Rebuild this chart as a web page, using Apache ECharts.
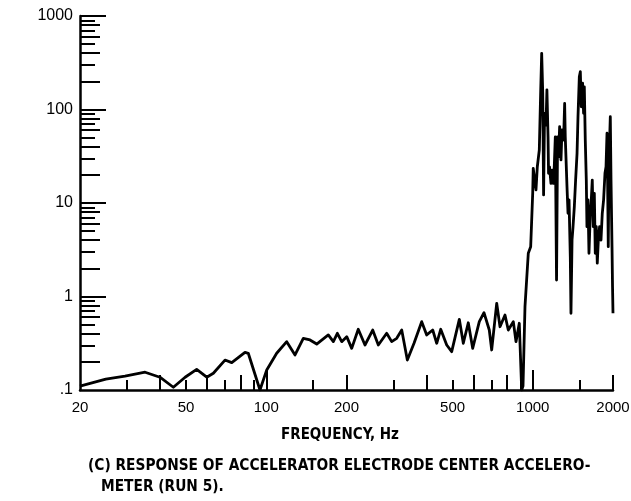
<!DOCTYPE html>
<html><head><meta charset="utf-8">
<script src="https://cdn.jsdelivr.net/npm/echarts@6/dist/echarts.min.js"></script>
<style>html,body{margin:0;padding:0;background:#fff}#c{width:631px;height:501px}</style>
</head><body><div id="c"></div><script>
const freqHz = [20, 25, 29.5, 35.1, 39.9, 44.8, 49.6, 54.8, 59.8, 63.3, 70, 74.2, 83.2, 85.6, 94.7, 100.4, 109.4, 119.3, 128.2, 137.7, 145.9, 154.6, 170.9, 178.5, 184.8, 191.9, 200.4, 209.2, 221.4, 234.6, 250.8, 263.3, 283, 295.5, 308.6, 322.3, 338.3, 358.4, 383, 399.9, 421.3, 436.1, 451.4, 475.4, 496.3, 530.1, 548.7, 572.8, 595, 630, 656, 686.8, 701.2, 732.2, 753.4, 786.6, 809.3, 845.2, 865, 890, 908.6, 919, 934.9, 962, 982, 999.4, 1004, 1019, 1028, 1040, 1058, 1071, 1080, 1090, 1098, 1107, 1121, 1130, 1141, 1146, 1156, 1170, 1181, 1194, 1204, 1215, 1228, 1239, 1250, 1261, 1276, 1287, 1305, 1317, 1324, 1344, 1356, 1368, 1383, 1391, 1404, 1416, 1432, 1448, 1466, 1478, 1495, 1508, 1521, 1538, 1551, 1561, 1574, 1588, 1597, 1611, 1625, 1644, 1658, 1672, 1687, 1702, 1716, 1731, 1746, 1762, 1781, 1803, 1823, 1844, 1866, 1883, 1899, 1909, 1920, 1932, 1954, 1966, 1983, 1992, 2000];
const response = [0.11, 0.131, 0.141, 0.155, 0.137, 0.107, 0.137, 0.166, 0.137, 0.151, 0.209, 0.196, 0.253, 0.247, 0.1, 0.164, 0.247, 0.329, 0.237, 0.357, 0.343, 0.310, 0.388, 0.329, 0.404, 0.329, 0.372, 0.279, 0.446, 0.303, 0.438, 0.303, 0.404, 0.329, 0.357, 0.438, 0.209, 0.316, 0.538, 0.388, 0.438, 0.316, 0.446, 0.303, 0.257, 0.570, 0.316, 0.524, 0.279, 0.538, 0.671, 0.438, 0.268, 0.846, 0.475, 0.634, 0.438, 0.538, 0.329, 0.517, 0.1, 0.11, 0.778, 2.90, 3.41, 12.7, 23.5, 24.4, 13.8, 24.4, 36.9, 162, 399, 149, 12.2, 91, 68, 162, 51, 20.8, 24.4, 16.2, 22.5, 16.2, 24.4, 51, 1.50, 51, 31.3, 65.5, 28.9, 60.4, 47.2, 116, 51, 14.9, 7.76, 10.8, 2.67, 0.661, 4.02, 5.58, 9.13, 17.6, 34.0, 83.8, 224, 254, 107, 191, 91, 175, 47.2, 17.6, 5.58, 10.8, 2.90, 7.76, 10.8, 17.6, 5.58, 12.7, 2.90, 5.58, 2.27, 4.02, 5.58, 4.02, 7.76, 10.8, 20.8, 24.4, 55.7, 17.6, 3.41, 28.9, 83.8, 17.6, 3.41, 1.27, 0.661];

const xLabelValues = [20, 50, 100, 200, 500, 1000, 2000];
const xTicksLong = [100, 1000];
const xTicksMedium = [40, 60, 80, 200, 400, 600, 800, 900, 2000];
const xTicksShort = [30, 50, 70, 90, 150, 300, 500, 700, 1500];
const yLabelValues = [0.1, 1, 10, 100, 1000];
const yTicksMajor = [1, 10, 100, 1000];
const yTicksEven = [0.2, 0.4, 0.6, 0.8, 2, 4, 6, 8, 20, 40, 60, 80, 200, 400, 600, 800];
const yTicksOdd = [0.3, 0.5, 0.7, 0.9, 3, 5, 7, 9, 30, 50, 70, 90, 300, 500, 700, 900];
const xTitle = 'FREQUENCY, Hz';
const captionLines = ['(C) RESPONSE OF ACCELERATOR ELECTRODE CENTER ACCELERO-', 'METER (RUN 5).'];

const condFont = '"DejaVu Sans Condensed", "Liberation Sans Narrow", sans-serif';
const numFont = '"Liberation Sans", Arial, sans-serif';

function xAxisDef(ticks, len, main) {
  const ax = {
    type: 'log', logBase: 10, min: 20, max: 2000, position: 'bottom', gridIndex: 0,
    axisLine: { show: main, lineStyle: { color: '#000', width: 2.5 } },
    axisTick: { show: true, inside: true, length: len, customValues: ticks, lineStyle: { color: '#000', width: 2 } },
    axisLabel: { show: false },
    minorTick: { show: false }, splitLine: { show: false }, minorSplitLine: { show: false }
  };
  if (main) {
    ax.axisLabel = { show: true, customValues: xLabelValues, margin: 10, color: '#000', fontFamily: numFont, fontSize: 15,
      formatter: v => String(Math.round(v)) };
    ax.name = xTitle; ax.nameLocation = 'middle'; ax.nameGap = 38;
    ax.nameTextStyle = { color: '#000', fontFamily: condFont, fontSize: 15, fontWeight: 'bold', padding: [0, 13, 0, 0] };
  }
  return ax;
}
function yAxisDef(ticks, len, main) {
  const ax = {
    type: 'log', logBase: 10, min: 0.1, max: 1000, position: 'left', gridIndex: 0,
    axisLine: { show: main, lineStyle: { color: '#000', width: 2.5 } },
    axisTick: { show: true, inside: true, length: len, customValues: ticks, lineStyle: { color: '#000', width: 2 } },
    axisLabel: { show: false },
    minorTick: { show: false }, splitLine: { show: false }, minorSplitLine: { show: false }
  };
  if (main) {
    ax.axisLabel = { show: true, customValues: yLabelValues, margin: 7, color: '#000', fontFamily: numFont, fontSize: 16,
      formatter: v => v < 1 ? '.1' : String(Math.round(v)) };
  }
  return ax;
}

const chart = echarts.init(document.getElementById('c'), null, { renderer: 'canvas' });
chart.setOption({
  animation: false,
  backgroundColor: '#fff',
  grid: { left: 80, right: 18, top: 16, bottom: 111, containLabel: false, outerBoundsMode: 'none' },
  xAxis: [xAxisDef(xTicksLong, 20, true), xAxisDef(xTicksMedium, 15, false), xAxisDef(xTicksShort, 10, false)],
  yAxis: [yAxisDef(yTicksMajor, 26, true), yAxisDef(yTicksEven, 20, false), yAxisDef(yTicksOdd, 15, false)],
  series: [{
    type: 'line', xAxisIndex: 0, yAxisIndex: 0,
    data: freqHz.map((f, i) => [f, response[i]]),
    showSymbol: false, symbol: 'none',
    lineStyle: { color: '#000', width: 2.8, join: 'round' },
    clip: true
  }],
  graphic: [
    { type: 'text', left: 88, top: 459, style: { text: captionLines[0], fill: '#000', font: 'bold 15.3px ' + condFont } },
    { type: 'text', left: 101, top: 480, style: { text: captionLines[1], fill: '#000', font: 'bold 15.3px ' + condFont } }
  ]
});
</script></body></html>
